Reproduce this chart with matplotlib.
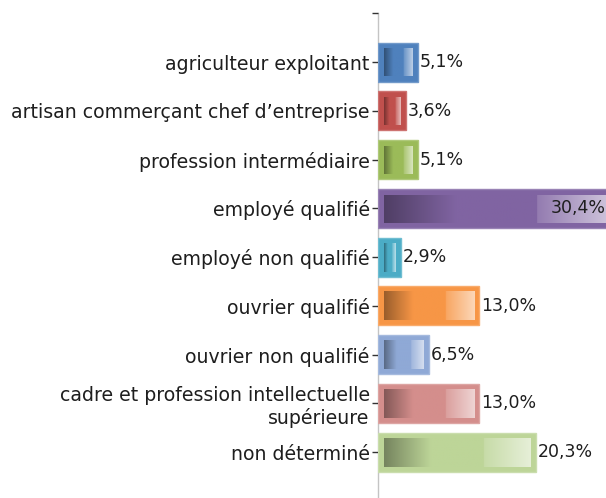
import numpy as np
import matplotlib
matplotlib.use("Agg")
import matplotlib.pyplot as plt
from matplotlib.colors import to_rgb

categories = [
    "agriculteur exploitant",
    "artisan commerçant chef d\u2019entreprise",
    "profession intermédiaire",
    "employé qualifié",
    "employé non qualifié",
    "ouvrier qualifié",
    "ouvrier non qualifié",
    "cadre et profession intellectuelle\nsupérieure",
    "non déterminé",
]
values = [5.1, 3.6, 5.1, 30.4, 2.9, 13.0, 6.5, 13.0, 20.3]
colors = ["#4F81BD", "#C0504D", "#9BBB59", "#8064A2", "#4BACC6",
          "#F79646", "#8FA9D6", "#D48E8C", "#BDD598"]

W, H, DPI = 606, 498, 100
fig = plt.figure(figsize=(W / DPI, H / DPI), dpi=DPI)

x0_px = 378.0
px_per_x = 7.77
y_top_px = 13.25
px_per_y = 48.75
ax_w = (W - x0_px) / W
ax = fig.add_axes([x0_px / W, 0.0, ax_w, (H - y_top_px) / H])
xmax = (W - x0_px) / px_per_x
ymax = (H - 62.0) / px_per_y  # bottom limit in category units

bar_h = 39.0 / px_per_y


def mix(c, t, k):
    return tuple(c[i] * (1 - k) + t[i] * k for i in range(3))


def gradient(col, n=300):
    c = np.array(to_rgb(col))
    dark = c * 0.62
    light = mix(c, (1, 1, 1), 0.62)
    light_start = mix(c, (1, 1, 1), 0.15)
    out = np.zeros((n, 3))
    for i in range(n):
        t = i / (n - 1)
        if t < 0.32:
            k = t / 0.32
            out[i] = dark * (1 - k) + c * k
        elif t < 0.68:
            out[i] = c
        else:
            k = (t - 0.68) / 0.32
            out[i] = np.array(light_start) * (1 - k) + np.array(light) * k
    return out


for i, (v, col) in enumerate(zip(values, colors)):
    edge = mix(to_rgb(col), (1, 1, 1), 0.2)
    ax.barh(i, v, height=bar_h, color=col, edgecolor=edge, linewidth=1.0, zorder=2)
    left = 6.0 / px_per_x
    right = v - 5.0 / px_per_x
    top = i - bar_h / 2 + 6.0 / px_per_y
    bot = i + bar_h / 2 - 5.0 / px_per_y
    if right > left:
        g = gradient(col)[np.newaxis, :, :]
        ax.imshow(g, extent=[left, right, bot, top], aspect="auto",
                  interpolation="bilinear", zorder=3)
    lab = f"{v:.1f}".replace(".", ",") + "%"
    if v > xmax:
        ax.text(v - 1.05, i, lab, ha="right", va="center", fontsize=12.5,
                color="#1e1e1e", zorder=4, clip_on=False)
    else:
        ax.text(v + 2.0 / px_per_x, i, lab, ha="left", va="center", fontsize=12.5,
                color="#1e1e1e", zorder=4)

ax.set_xlim(0, xmax)
ax.set_ylim(ymax, -1)
ax.set_yticks(list(range(-1, len(categories))))
ax.set_yticklabels([""] + categories, fontsize=13.6, color="#1e1e1e")
ax.tick_params(axis="y", length=4.5, width=1, color="#333333", pad=1.5)
ax.set_xticks([])
for s in ["top", "right", "bottom"]:
    ax.spines[s].set_visible(False)
ax.spines["left"].set_color("#c4c4c4")
ax.spines["left"].set_linewidth(1.0)
ax.spines["left"].set_zorder(1)
ax.patch.set_alpha(0)

fig.savefig("out.png", dpi=DPI)
